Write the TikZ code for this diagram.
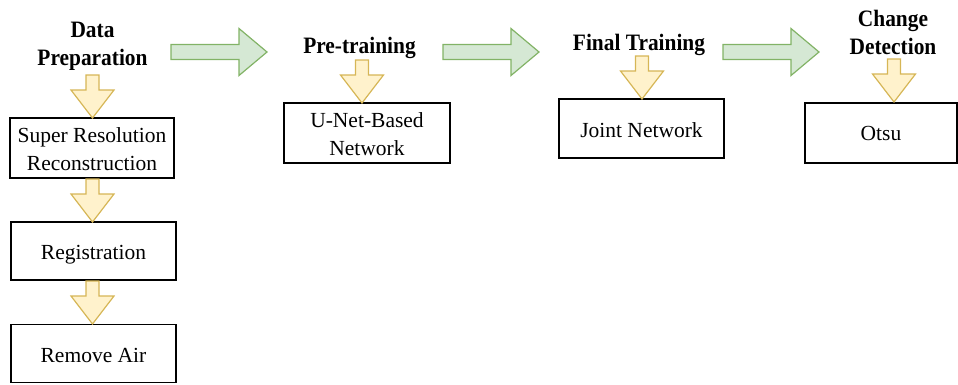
\documentclass[tikz,border=0pt]{standalone}
\usepackage{fontspec}
\setmainfont{Liberation Serif}
\newfontfamily\ttlfont[FakeStretch=0.91]{Liberation Serif}
\definecolor{yfill}{HTML}{FFF2CC}
\definecolor{ydraw}{HTML}{D6B656}
\definecolor{gfill}{HTML}{D5E8D4}
\definecolor{gdraw}{HTML}{82B366}
\tikzset{
  box/.style={draw=black, line width=1.4pt, minimum width=#1, inner sep=0pt},
  txt/.style={anchor=base, inner sep=0pt, font=\fontsize{21.5}{28}\selectfont, align=center},
  ttl/.style={anchor=base, inner sep=0pt, font=\ttlfont\fontsize{23.5}{28}\selectfont\bfseries, align=center},
  pics/darr/.style={code={
    \draw[fill=yfill, draw=ydraw, line width=1.2pt, line join=miter]
      (-6.5,0) -- (6.5,0) -- (6.5,15) -- (21.5,15) -- (0,43) -- (-21.5,15) -- (-6.5,15) -- cycle;}},
  pics/rarr/.style={code={
    \draw[fill=gfill, draw=gdraw, line width=1.2pt, line join=miter]
      (0,-7.5) -- (68,-7.5) -- (68,-23.5) -- (96,0) -- (68,23.5) -- (68,7.5) -- (0,7.5) -- cycle;}}
}
\begin{document}
\begin{tikzpicture}[x=1pt, y=-1pt]
\useasboundingbox (0,0) rectangle (958,384);
% titles (base anchor = baseline of last line)
\node[ttl] (t1) at (92.5,65) {Data\\Preparation};
\node[ttl] (t2) at (359.5,53) {Pre-training};
\node[ttl] (t3) at (639,50) {Final Training};
\node[ttl] (t4) at (893,54) {Change\\Detection};
% boxes
\node[box=164pt, minimum height=60pt] (sr) at (92,148) {};
\node[box=165pt, minimum height=58pt] (reg) at (93.5,251) {};
\node[box=165pt, minimum height=58pt] (air) at (93.5,353.5) {};
\node[box=166pt, minimum height=60pt] (unet) at (367,133) {};
\node[box=165pt, minimum height=59pt] (joint) at (641.5,128.5) {};
\node[box=152pt, minimum height=60pt] (otsu) at (881,133) {};
% box texts
\node[txt] (srt) at (92,170) {Super Resolution\\Reconstruction};
\node[txt] (regt) at (93.5,259) {Registration};
\node[txt] (airt) at (93.5,362) {Remove Air};
\node[txt] (unett) at (367,155) {U-Net-Based\\Network};
\node[txt] (jointt) at (641.5,137) {Joint Network};
\node[txt] (otsut) at (881,140) {Otsu};
% yellow arrows
\pic at (92.5,75) {darr};
\pic at (92.5,179) {darr};
\pic at (92.5,281) {darr};
\pic at (362,60) {darr};
\pic at (642,56) {darr};
\pic at (894,59) {darr};
% green arrows
\pic at (171,52) {rarr};
\pic at (443,52) {rarr};
\pic at (723,52) {rarr};
\end{tikzpicture}
\end{document}
